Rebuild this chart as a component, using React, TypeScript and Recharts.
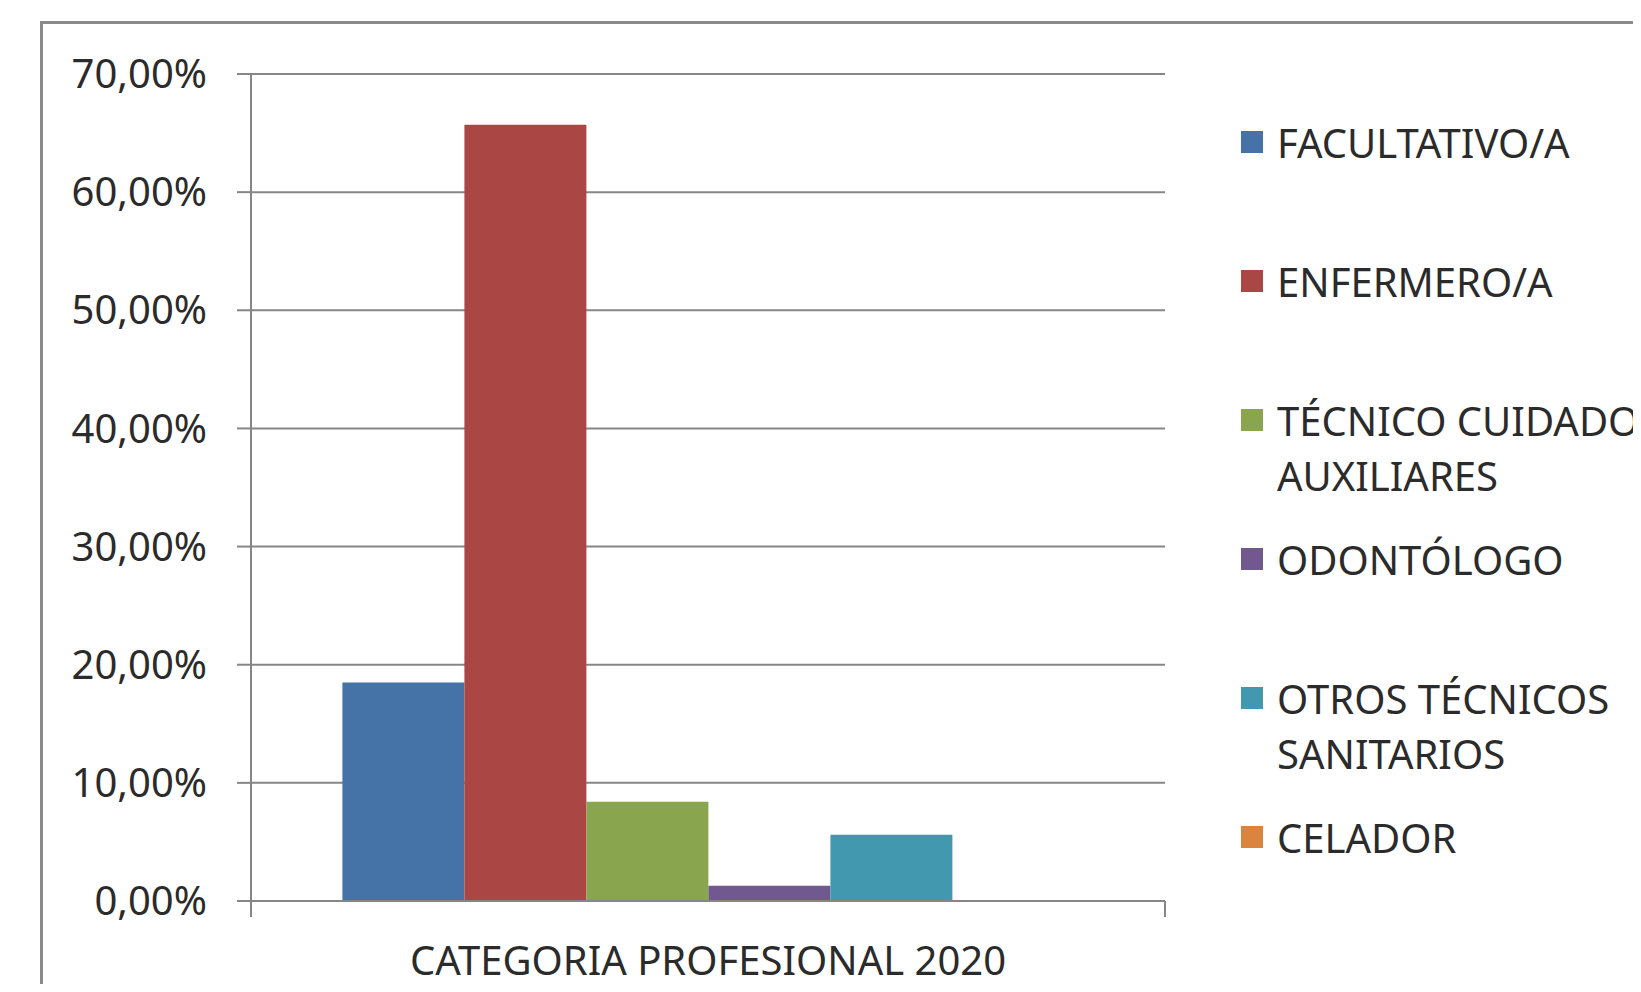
import React from "react";
import { BarChart, Bar, XAxis, YAxis, CartesianGrid } from "recharts";

// categoría profesional 2020, % sobre el total
const categories = ["CATEGORIA PROFESIONAL 2020"];
const seriesNames = [
  "FACULTATIVO/A",
  "ENFERMERO/A",
  "TÉCNICO CUIDADOS AUXILIARES",
  "ODONTÓLOGO",
  "OTROS TÉCNICOS SANITARIOS",
  "CELADOR",
];
const seriesValues = [18.5, 65.7, 8.4, 1.3, 5.6, 0];
const seriesColors = ["#4572A7", "#AA4643", "#89A54E", "#71588F", "#4198AF", "#DB843D"];
const yTicks = [0, 10, 20, 30, 40, 50, 60, 70];

const data = categories.map((name) => {
  const row: Record<string, string | number> = { name };
  seriesNames.forEach((s, i) => (row[s] = seriesValues[i]));
  return row;
});

const FONT = "'Noto Sans', sans-serif";
const GRAY = "#868686";
const TEXT = "#2b2b2b";
const X_TICK_MARGIN = 46;
const EDGE_TICK = 16;

const fmt = (v: number) => v.toFixed(2).replace(".", ",") + "%";

// category label plus the little tick marks on both edges of the category band (Excel style)
function CategoryTick(props: any) {
  const { x, y, payload, width, visibleTicksCount } = props;
  const half = width && visibleTicksCount ? width / visibleTicksCount / 2 : 0;
  const axisY = y - X_TICK_MARGIN;
  return (
    <g>
      {half > 0 && (
        <>
          <line x1={x - half} x2={x - half} y1={axisY} y2={axisY + EDGE_TICK} stroke={GRAY} strokeWidth={2} />
          <line x1={x + half} x2={x + half} y1={axisY} y2={axisY + EDGE_TICK} stroke={GRAY} strokeWidth={2} />
        </>
      )}
      <text x={x} y={y} dy="0.71em" textAnchor="middle" fill={TEXT} fontSize={40} fontFamily={FONT}>
        {payload.value}
      </text>
    </g>
  );
}

function LegendBox() {
  return (
    <div style={{ position: "absolute", left: 1241, top: 115, width: 700, fontFamily: FONT, fontSize: 40, color: TEXT }}>
      {seriesNames.map((s, i) => (
        <div key={s} style={{ display: "flex", alignItems: "flex-start", height: 139 }}>
          <div
            style={{
              width: 22,
              height: 22,
              background: seriesColors[i],
              marginTop: 16,
              marginRight: 14,
              flexShrink: 0,
            }}
          />
          <div style={{ width: 420, lineHeight: "55px" }}>{s}</div>
        </div>
      ))}
    </div>
  );
}

export default function App() {
  return (
    <div style={{ position: "relative", width: 1641, height: 992, margin: -8, overflow: "hidden", background: "#fff" }}>
      <div
        style={{
          position: "absolute",
          left: 40,
          top: 21,
          width: 1700,
          height: 1100,
          border: "3px solid #8a8a8a",
          boxSizing: "border-box",
        }}
      />
      <div style={{ position: "absolute", left: 0, top: 0 }}>
        <BarChart
          width={1641}
          height={992}
          data={data}
          margin={{ top: 74, right: 476, bottom: 0, left: 0 }}
          barCategoryGap="10%"
          barGap={0}
        >
          <CartesianGrid vertical={false} stroke={GRAY} strokeWidth={2} />
          <XAxis
            dataKey="name"
            height={91}
            tickLine={false}
            tickSize={0}
            tickMargin={X_TICK_MARGIN}
            axisLine={{ stroke: GRAY, strokeWidth: 2 }}
            tick={<CategoryTick />}
          />
          <YAxis
            width={251}
            domain={[0, 70]}
            ticks={yTicks}
            tickFormatter={fmt}
            tickSize={14}
            tickMargin={30}
            axisLine={{ stroke: GRAY, strokeWidth: 2 }}
            tickLine={{ stroke: GRAY, strokeWidth: 2 }}
            tick={{ fill: TEXT, fontSize: 40, fontFamily: FONT }}
          />
          {seriesNames.map((s, i) => (
            <Bar key={s} dataKey={s} fill={seriesColors[i]} isAnimationActive={false} />
          ))}
        </BarChart>
      </div>
      <LegendBox />
    </div>
  );
}
